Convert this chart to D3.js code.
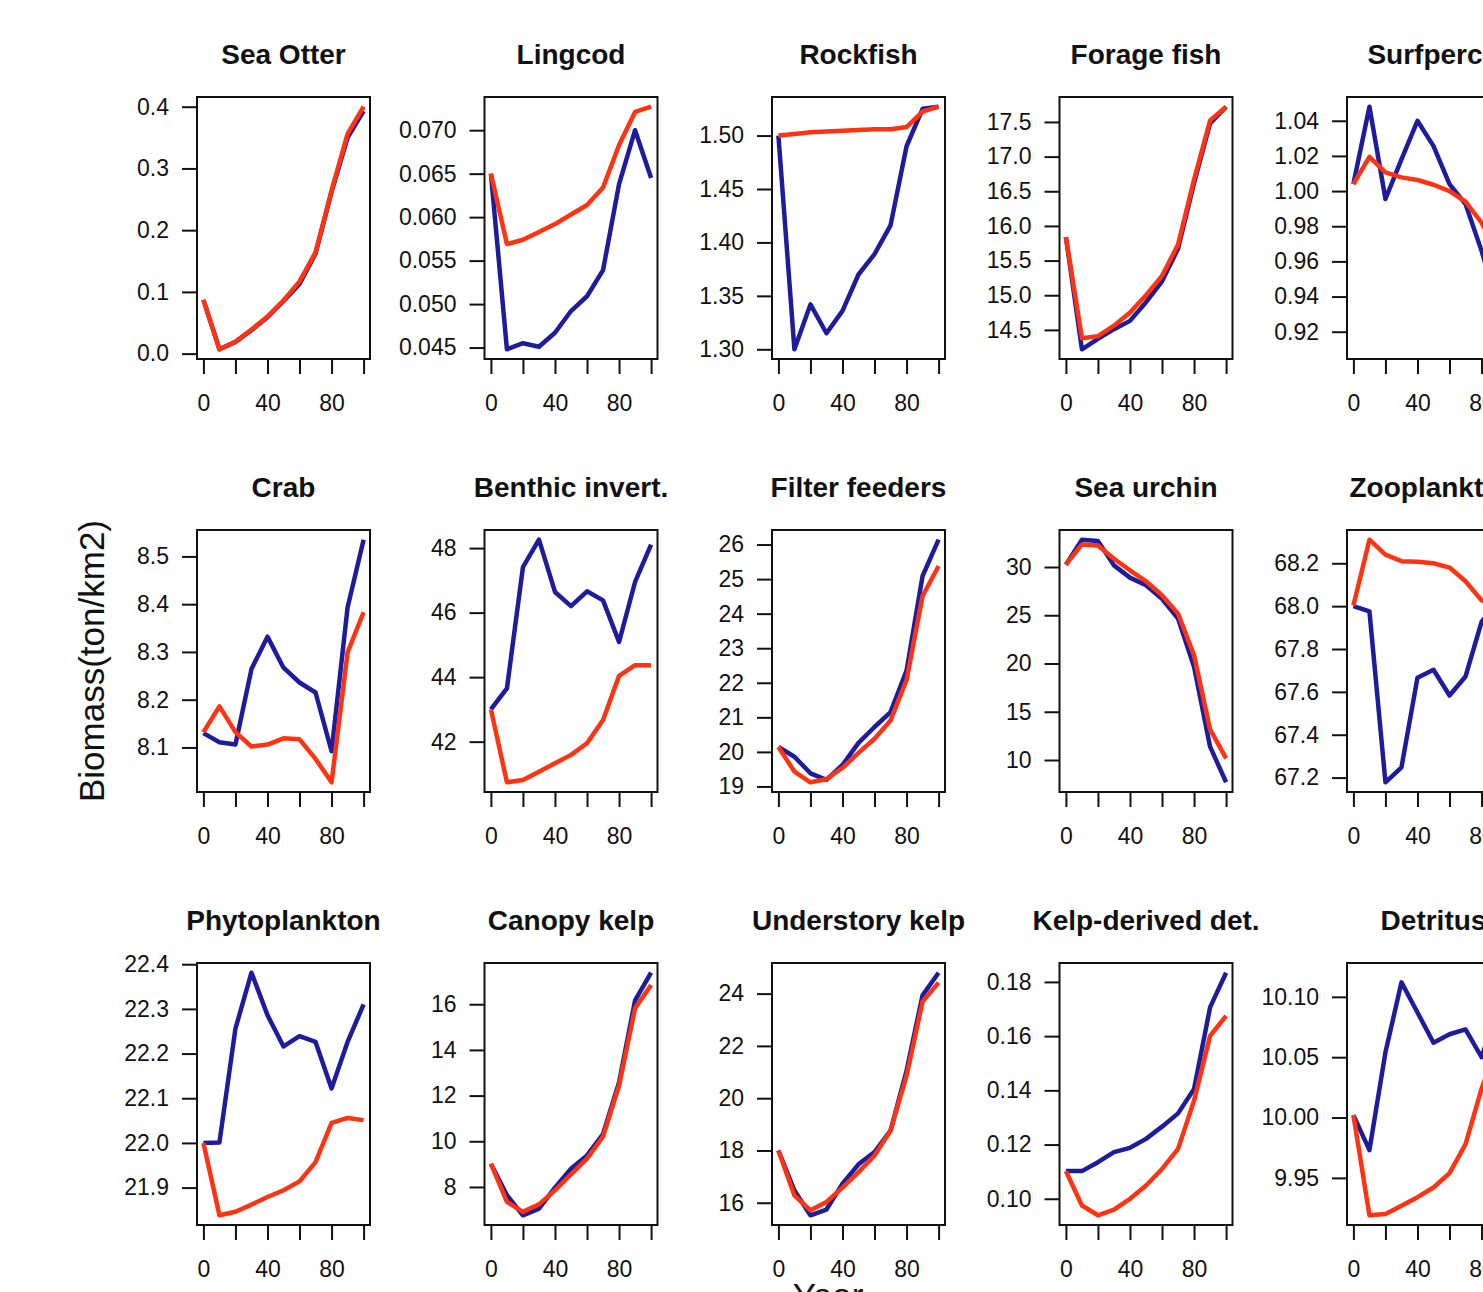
<!DOCTYPE html>
<html>
<head>
<meta charset="utf-8">
<script src="https://cdn.jsdelivr.net/npm/d3@7"></script>
<style>
  body { margin: 0; background: #fff; overflow: hidden; }
  svg { display: block; font-family: "Liberation Sans", Arial, Helvetica, sans-serif; }
</style>
</head>
<body>
<svg id="viz"></svg>
<script>
// panel order: row by row, 5 per row (right column is cut off by the frame)
const titles = [
  "Sea Otter", "Lingcod", "Rockfish", "Forage fish", "Surfperch",
  "Crab", "Benthic invert.", "Filter feeders", "Sea urchin", "Zooplankton",
  "Phytoplankton", "Canopy kelp", "Understory kelp", "Kelp-derived det.", "Detritus"
];

const years = [0, 10, 20, 30, 40, 50, 60, 70, 80, 90, 100];
const yearTicks = [0, 20, 40, 60, 80, 100];
const yearLabels = [0, 40, 80];

// blue series
const blueSeries = [
  [0.087, 0.007, 0.019, 0.038, 0.059, 0.085, 0.113, 0.162, 0.262, 0.350, 0.393],
  [0.0650, 0.0448, 0.0455, 0.0451, 0.0467, 0.0492, 0.0509, 0.0539, 0.0638, 0.0700, 0.0645],
  [1.500, 1.300, 1.342, 1.315, 1.336, 1.370, 1.389, 1.416, 1.490, 1.525, 1.527],
  [15.84, 14.22, 14.37, 14.51, 14.63, 14.90, 15.20, 15.67, 16.62, 17.48, 17.72],
  [1.004, 1.048, 0.9955, 1.018, 1.040, 1.0256, 1.004, 0.9926, 0.966, 0.935, 0.910],
  [8.130, 8.111, 8.106, 8.264, 8.332, 8.267, 8.236, 8.215, 8.092, 8.393, 8.535],
  [43.0, 43.65, 47.41, 48.26, 46.64, 46.20, 46.66, 46.38, 45.09, 46.95, 48.11],
  [20.14, 19.86, 19.38, 19.19, 19.62, 20.26, 20.72, 21.15, 22.35, 25.09, 26.14],
  [30.24, 32.83, 32.69, 30.17, 28.90, 28.10, 26.70, 24.66, 19.66, 11.38, 7.69],
  [68.00, 67.976, 67.178, 67.248, 67.666, 67.703, 67.583, 67.672, 67.926, 68.02, 68.05],
  [22.000, 22.001, 22.256, 22.381, 22.286, 22.216, 22.239, 22.226, 22.122, 22.226, 22.310],
  [9.02, 7.64, 6.76, 7.05, 7.97, 8.80, 9.38, 10.32, 12.58, 16.17, 17.38],
  [18.00, 16.47, 15.52, 15.74, 16.73, 17.47, 17.94, 18.76, 21.05, 23.94, 24.80],
  [0.1102, 0.1102, 0.1135, 0.1172, 0.1188, 0.1221, 0.1266, 0.1315, 0.1405, 0.1706, 0.1834],
  [10.002, 9.973, 10.054, 10.112, 10.087, 10.062, 10.069, 10.073, 10.050, 10.090, 10.120]
];

// red series
const redSeries = [
  [0.087, 0.007, 0.019, 0.039, 0.060, 0.086, 0.117, 0.164, 0.264, 0.356, 0.400],
  [0.0650, 0.0569, 0.0574, 0.0583, 0.0592, 0.0603, 0.0614, 0.0634, 0.0683, 0.0721, 0.0727],
  [1.500, 1.5015, 1.503, 1.5037, 1.5044, 1.5053, 1.506, 1.506, 1.508, 1.5225, 1.527],
  [15.84, 14.38, 14.41, 14.56, 14.75, 15.00, 15.28, 15.73, 16.67, 17.52, 17.72],
  [1.004, 1.0195, 1.0106, 1.0078, 1.0063, 1.0036, 1.000, 0.994, 0.982, 0.965, 0.950],
  [8.132, 8.186, 8.132, 8.102, 8.106, 8.119, 8.117, 8.076, 8.027, 8.299, 8.383],
  [43.0, 40.74, 40.81, 41.07, 41.33, 41.59, 41.95, 42.67, 44.04, 44.37, 44.37],
  [20.14, 19.43, 19.12, 19.21, 19.54, 19.97, 20.38, 20.91, 22.08, 24.51, 25.38],
  [30.24, 32.34, 32.24, 30.86, 29.66, 28.52, 27.07, 25.17, 20.86, 13.17, 10.17],
  [68.003, 68.31, 68.24, 68.21, 68.207, 68.20, 68.18, 68.116, 68.027, 68.00, 67.99],
  [22.000, 21.838, 21.846, 21.862, 21.879, 21.894, 21.914, 21.957, 22.045, 22.056, 22.051],
  [9.02, 7.35, 6.91, 7.24, 7.85, 8.55, 9.24, 10.21, 12.44, 15.83, 16.84],
  [18.00, 16.28, 15.71, 16.03, 16.58, 17.17, 17.81, 18.76, 20.86, 23.70, 24.42],
  [0.1102, 0.0975, 0.0939, 0.0960, 0.1000, 0.1049, 0.1110, 0.1184, 0.1362, 0.1601, 0.1675],
  [10.002, 9.919, 9.920, 9.927, 9.934, 9.942, 9.954, 9.978, 10.024, 10.060, 10.080]
];

const yTicks = [
  [0.0, 0.1, 0.2, 0.3, 0.4],
  [0.045, 0.050, 0.055, 0.060, 0.065, 0.070],
  [1.30, 1.35, 1.40, 1.45, 1.50],
  [14.5, 15.0, 15.5, 16.0, 16.5, 17.0, 17.5],
  [0.92, 0.94, 0.96, 0.98, 1.00, 1.02, 1.04],
  [8.1, 8.2, 8.3, 8.4, 8.5],
  [42, 44, 46, 48],
  [19, 20, 21, 22, 23, 24, 25, 26],
  [10, 15, 20, 25, 30],
  [67.2, 67.4, 67.6, 67.8, 68.0, 68.2],
  [21.9, 22.0, 22.1, 22.2, 22.3, 22.4],
  [8, 10, 12, 14, 16],
  [16, 18, 20, 22, 24],
  [0.10, 0.12, 0.14, 0.16, 0.18],
  [9.95, 10.00, 10.05, 10.10]
];
const tickDigits = [1, 3, 2, 1, 2, 1, 0, 0, 0, 1, 1, 0, 0, 2, 2];

const width = 1483, height = 1292;
const colLeft = 197, colStep = 287.5, boxW = 173;
const rowTop = 97, rowStep = 433, boxH = 262;
const blue = "#1c1c9c", red = "#ff3311";

const svg = d3.select("#viz").attr("width", width).attr("height", height);

// R style range with 4% padding
function padded(lo, hi) {
  const p = (hi - lo) * 0.04;
  return [lo - p, hi + p];
}

titles.forEach((title, i) => {
  const col = i % 5, row = Math.floor(i / 5);
  const left = colLeft + col * colStep;
  const top = rowTop + row * rowStep;

  const x = d3.scaleLinear().domain(padded(0, 100)).range([left, left + boxW]);
  const ext = d3.extent(blueSeries[i].concat(redSeries[i]));
  const y = d3.scaleLinear().domain(padded(ext[0], ext[1])).range([top + boxH, top]);

  const g = svg.append("g");

  // x axis (ticks every 20, labels only where R keeps them)
  const xAxis = g.append("g").attr("transform", `translate(0, ${top + boxH})`)
    .call(d3.axisBottom(x).tickValues(yearTicks).tickSize(15).tickFormat(d => yearLabels.includes(d) ? d : ""));
  xAxis.select(".domain").remove();
  xAxis.selectAll("line").attr("stroke", "#111").attr("stroke-width", 2);
  xAxis.selectAll("text").attr("fill", "#111").attr("font-size", 23).attr("dy", "0.35em").attr("y", 44);

  // y axis
  const yAxis = g.append("g").attr("transform", `translate(${left}, 0)`)
    .call(d3.axisLeft(y).tickValues(yTicks[i]).tickSize(15).tickFormat(d3.format(`.${tickDigits[i]}f`)));
  yAxis.select(".domain").remove();
  yAxis.selectAll("line").attr("stroke", "#111").attr("stroke-width", 2);
  yAxis.selectAll("text").attr("fill", "#111").attr("font-size", 23).attr("x", -28);

  const line = d3.line().x((d, k) => x(years[k])).y(d => y(d));
  g.append("path").datum(blueSeries[i]).attr("d", line)
    .attr("fill", "none").attr("stroke", blue).attr("stroke-width", 4.5).attr("stroke-linejoin", "round");
  g.append("path").datum(redSeries[i]).attr("d", line)
    .attr("fill", "none").attr("stroke", red).attr("stroke-width", 4.5).attr("stroke-linejoin", "round");

  g.append("rect").attr("x", left).attr("y", top).attr("width", boxW).attr("height", boxH)
    .attr("fill", "none").attr("stroke", "#111").attr("stroke-width", 2);

  g.append("text").attr("x", left + boxW / 2).attr("y", top - 33)
    .attr("text-anchor", "middle").attr("font-size", 28).attr("font-weight", "bold").attr("fill", "#111")
    .text(title);
});

svg.append("text").attr("transform", `translate(104, ${rowTop + rowStep + boxH / 2}) rotate(-90)`)
  .attr("text-anchor", "middle").attr("font-size", 35).attr("fill", "#111").text("Biomass(ton/km2)");
svg.append("text").attr("x", 828).attr("y", 1308)
  .attr("text-anchor", "middle").attr("font-size", 35).attr("fill", "#111").text("Year");
</script>
</body>
</html>
